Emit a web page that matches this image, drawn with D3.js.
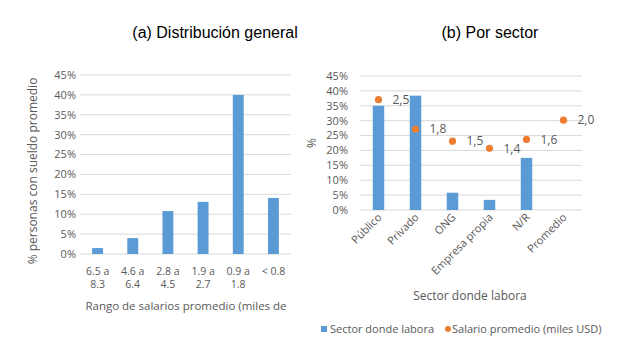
<!DOCTYPE html>
<html>
<head>
<meta charset="utf-8">
<script src="https://cdn.jsdelivr.net/npm/d3@7"></script>
<style>
  body { margin: 0; background: #fff; }
  text { font-family: "Open Sans", sans-serif; fill: #595959; }
  .title { font-family: "Liberation Sans", Arial, sans-serif; fill: #000; font-size: 16px; }
</style>
</head>
<body>
<div id="chart"></div>
<script>
// (a) distribución general
const rangos = [["6.5 a", "8.3"], ["4.6 a", "6.4"], ["2.8 a", "4.5"], ["1.9 a", "2.7"], ["0.9 a", "1.8"], ["< 0.8"]];
const pctRango = [1.5, 4.0, 10.8, 13.1, 40.0, 14.1];

// (b) por sector
const sectores = ["Público", "Privado", "ONG", "Empresa propia", "N/R", "Promedio"];
const pctSector = [35.0, 38.4, 5.8, 3.4, 17.5, null];
const salario = [2.47, 1.81, 1.54, 1.38, 1.58, 2.01];

const yTicks = [0, 5, 10, 15, 20, 25, 30, 35, 40, 45];

const blue = "#5B9BD5";
const orange = "#ED7D31";
const gridColor = "#d9d9d9";

const svg = d3.select("#chart")
  .append("svg")
  .attr("width", 643)
  .attr("height", 350);

// ---------- panel a ----------
const xa = d3.scaleBand().domain(d3.range(rangos.length)).range([80, 291]).paddingInner(0.69).paddingOuter(0.345);
const ya = d3.scaleLinear().domain([0, 45]).range([254, 75]);

const ga = svg.append("g");

ga.append("text").attr("class", "title")
  .attr("x", 215).attr("y", 38).attr("text-anchor", "middle")
  .text("(a) Distribución general");

ga.selectAll("line.grid").data(yTicks).join("line")
  .attr("x1", 80).attr("x2", 291)
  .attr("y1", d => ya(d)).attr("y2", d => ya(d))
  .attr("stroke", gridColor).attr("stroke-width", 1);

ga.selectAll("text.ytick").data(yTicks).join("text")
  .attr("x", 76).attr("y", d => ya(d)).attr("dy", "0.35em")
  .attr("text-anchor", "end").attr("font-size", 11)
  .text(d => d + "%");

ga.selectAll("rect").data(pctRango).join("rect")
  .attr("x", (d, i) => xa(i)).attr("width", xa.bandwidth())
  .attr("y", d => ya(d)).attr("height", d => ya(0) - ya(d))
  .attr("fill", blue);

// etiquetas en dos líneas, cada línea como texto propio
rangos.forEach((lines, i) => {
  lines.forEach((t, j) => {
    ga.append("text")
      .attr("x", xa(i) + xa.bandwidth() / 2)
      .attr("y", 271 + j * 13.5).attr("dy", "0.35em")
      .attr("text-anchor", "middle").attr("font-size", 10.5)
      .text(t);
  });
});

ga.append("text")
  .attr("transform", "translate(37,171) rotate(-90)")
  .attr("text-anchor", "middle").attr("font-size", 12)
  .text("% personas con sueldo promedio");

ga.append("text")
  .attr("x", 186).attr("y", 310).attr("text-anchor", "middle").attr("font-size", 11.5)
  .text("Rango de salarios promedio (miles de");

// ---------- panel b ----------
const xb = d3.scaleBand().domain(sectores).range([360, 582]).paddingInner(0.69).paddingOuter(0.345);
const yb = d3.scaleLinear().domain([0, 45]).range([210, 76]);
const yb2 = d3.scaleLinear().domain([0, 3]).range([210, 76]);

const gb = svg.append("g");

gb.append("text").attr("class", "title")
  .attr("x", 490).attr("y", 38).attr("text-anchor", "middle")
  .text("(b) Por sector");

gb.selectAll("line.grid").data(yTicks).join("line")
  .attr("x1", 360).attr("x2", 582)
  .attr("y1", d => yb(d)).attr("y2", d => yb(d))
  .attr("stroke", gridColor).attr("stroke-width", 1);

gb.selectAll("text.ytick").data(yTicks).join("text")
  .attr("x", 348).attr("y", d => yb(d)).attr("dy", "0.35em")
  .attr("text-anchor", "end").attr("font-size", 11)
  .text(d => d + "%");

gb.selectAll("rect").data(sectores.filter((s, i) => pctSector[i] != null)).join("rect")
  .attr("x", d => xb(d)).attr("width", xb.bandwidth())
  .attr("y", d => yb(pctSector[sectores.indexOf(d)]))
  .attr("height", d => yb(0) - yb(pctSector[sectores.indexOf(d)]))
  .attr("fill", blue);

gb.selectAll("circle").data(salario).join("circle")
  .attr("cx", (d, i) => xb(sectores[i]) + xb.bandwidth() / 2)
  .attr("cy", d => yb2(d))
  .attr("r", 3.6)
  .attr("fill", orange);

gb.selectAll("text.lbl").data(salario).join("text")
  .attr("x", (d, i) => xb(sectores[i]) + xb.bandwidth() / 2 + 14)
  .attr("y", d => yb2(d)).attr("dy", "0.35em")
  .attr("font-size", 12).attr("fill", "#404040")
  .text(d => d3.format(".1f")(d).replace(".", ","));

gb.selectAll("text.xtick").data(sectores).join("text")
  .attr("transform", d => `translate(${xb(d) + xb.bandwidth() / 2 + 4},${218}) rotate(-45)`)
  .attr("text-anchor", "end").attr("font-size", 11)
  .text(d => d);

gb.append("text")
  .attr("transform", "translate(316,143) rotate(-90)")
  .attr("text-anchor", "middle").attr("font-size", 12)
  .text("%");

gb.append("text")
  .attr("x", 470).attr("y", 300).attr("text-anchor", "middle").attr("font-size", 12)
  .text("Sector donde labora");

// leyenda
const lg = svg.append("g");
lg.append("rect").attr("x", 321).attr("y", 326).attr("width", 6).attr("height", 6).attr("fill", blue);
lg.append("text").attr("x", 330).attr("y", 329).attr("dy", "0.35em").attr("font-size", 11)
  .text("Sector donde labora");
lg.append("circle").attr("cx", 448).attr("cy", 329).attr("r", 3).attr("fill", orange);
lg.append("text").attr("x", 452).attr("y", 329).attr("dy", "0.35em").attr("font-size", 11)
  .text("Salario promedio (miles USD)");
</script>
</body>
</html>
